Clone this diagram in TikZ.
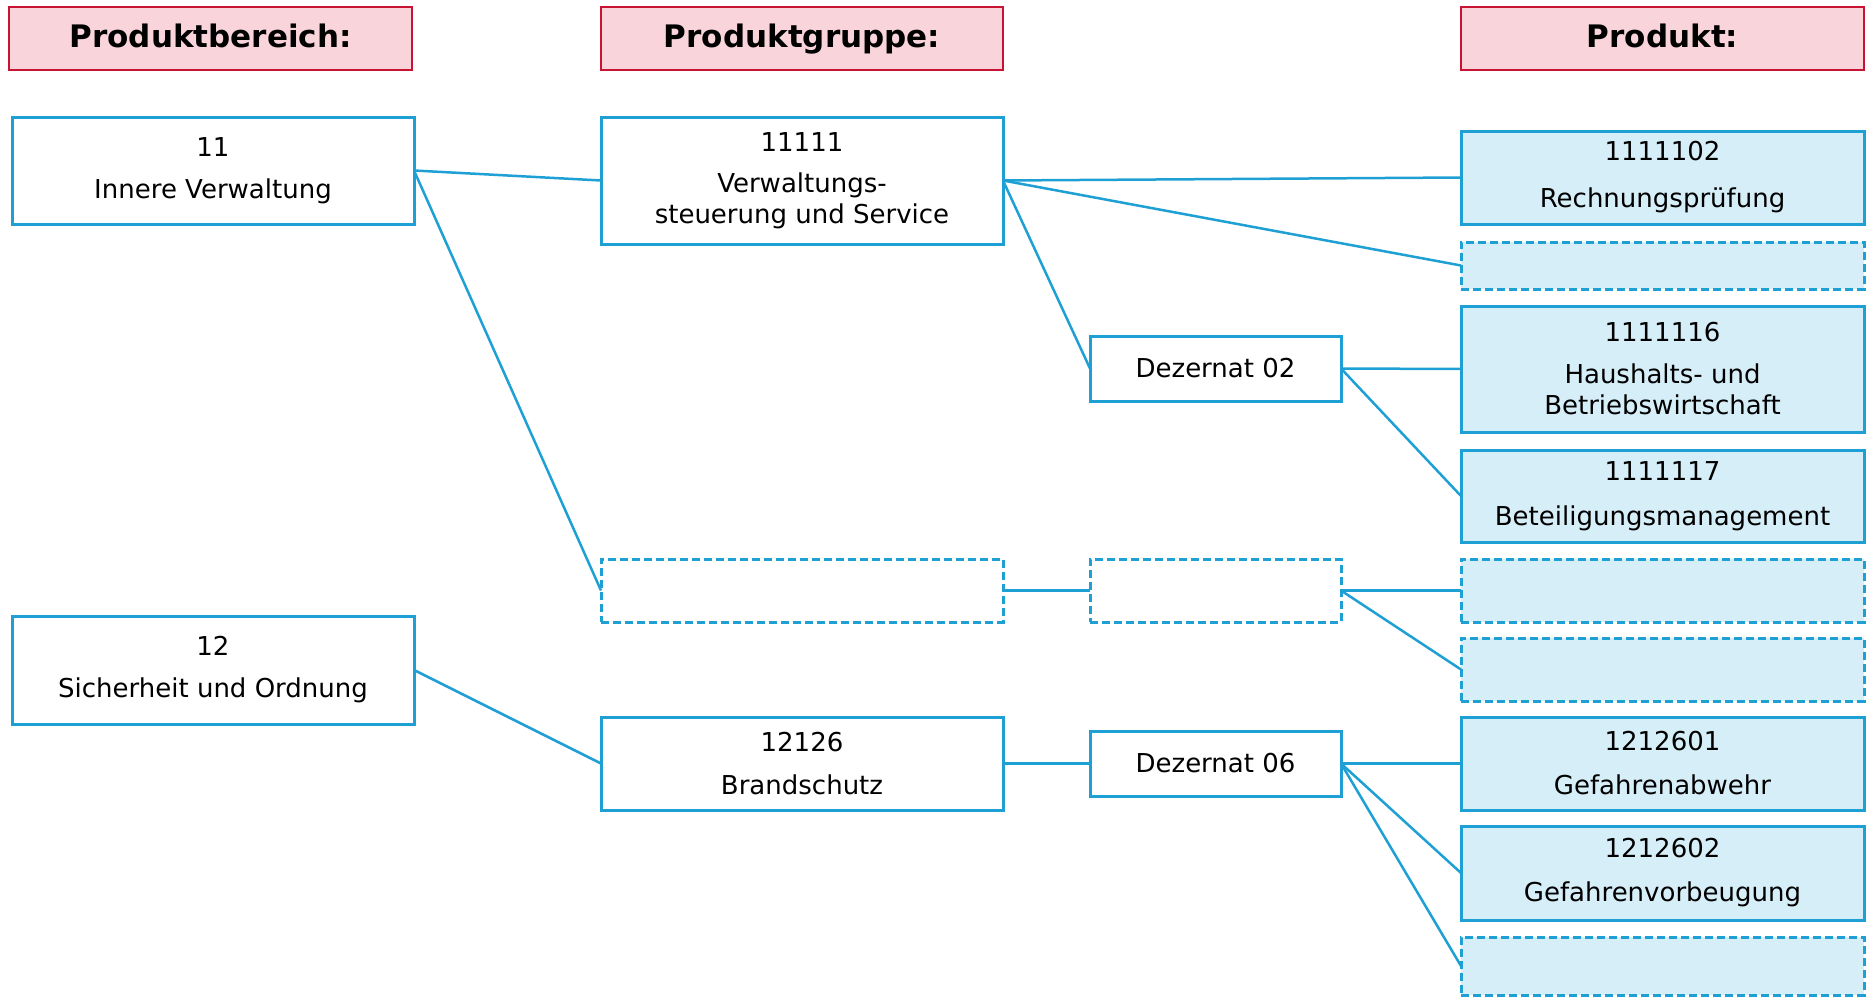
\documentclass[tikz,border=0pt]{standalone}
\usepackage{fontspec}
\setmainfont{DejaVu Sans}
\definecolor{lblue}{RGB}{30,160,212}
\definecolor{pfill}{RGB}{214,238,248}
\definecolor{hfill}{RGB}{249,212,218}
\definecolor{hdraw}{RGB}{200,20,50}
\newcommand\mybox[7]{%
  \pgfmathsetmacro\myCX{(#3+#5)/2}%
  \pgfmathsetmacro\myCY{(#4+#6)/2}%
  \pgfmathsetmacro\myWW{#5-#3}%
  \pgfmathsetmacro\myHH{#6-#4}%
  \node[#1,minimum width=\myWW pt,minimum height=\myHH pt] (#2) at (\myCX,\myCY) {#7};}
\begin{document}
\begin{tikzpicture}[x=1pt,y=-1pt,
  hdr/.style={draw=hdraw,fill=hfill,line width=2.8pt,inner sep=0pt,outer sep=0pt,
    text height=23pt,text depth=5pt,
    font=\fontsize{31}{37}\selectfont\bfseries},
  bx/.style={draw=lblue,fill=white,line width=3pt,inner sep=0pt,outer sep=0pt,
    align=center,font=\fontsize{26}{31}\selectfont},
  pbx/.style={bx,fill=pfill},
  dbx/.style={bx,dash pattern=on 8pt off 4pt},
  dpbx/.style={pbx,dash pattern=on 8pt off 4pt},
  conn/.style={draw=lblue,line width=2.5pt}]
\useasboundingbox (0,0) rectangle (1866,998);
% headers
\mybox{hdr}{h1}{9}{7}{412}{70}{Produktbereich:}
\mybox{hdr}{h2}{601}{7}{1003}{70}{Produktgruppe:}
\mybox{hdr}{h3}{1461}{7}{1864}{70}{Produkt:}
% column 1
\mybox{bx}{b11}{12}{117}{414}{224}{11\\[11pt]Innere Verwaltung}
\mybox{bx}{b12}{12}{616}{414}{724}{12\\[11pt]Sicherheit und Ordnung}
% column 2
\mybox{bx}{g11111}{601}{117}{1003}{244}{11111\\[10pt]Verwaltungs-\\steuerung und Service}
\mybox{dbx}{gd}{601}{559}{1003}{622}{}
\mybox{bx}{g12126}{601}{717}{1003}{810}{12126\\[12pt]Brandschutz}
% dezernate
\mybox{bx}{d02}{1090}{336}{1341}{401}{Dezernat 02}
\mybox{dbx}{dd}{1090}{559}{1341}{622}{}
\mybox{bx}{d06}{1090}{731}{1341}{796}{Dezernat 06}
% products
\mybox{pbx}{p02}{1461}{131}{1864}{224}{1111102\\[16pt]Rechnungsprüfung}
\mybox{dpbx}{pd1}{1461}{242}{1864}{289}{}
\mybox{pbx}{p16}{1461}{306}{1864}{432}{1111116\\[11pt]Haushalts- und\\Betriebswirtschaft}
\mybox{pbx}{p17}{1461}{450}{1864}{542}{1111117\\[14pt]Beteiligungsmanagement}
\mybox{dpbx}{pd2}{1461}{559}{1864}{622}{}
\mybox{dpbx}{pd3}{1461}{638}{1864}{701}{}
\mybox{pbx}{p601}{1461}{717}{1864}{810}{1212601\\[13pt]Gefahrenabwehr}
\mybox{pbx}{p602}{1461}{826}{1864}{920}{1212602\\[13pt]Gefahrenvorbeugung}
\mybox{dpbx}{pd4}{1461}{937}{1864}{995}{}
% connectors
\draw[conn] (b11.east) -- (g11111.west);
\draw[conn] (b11.east) -- (gd.west);
\draw[conn] (b12.east) -- (g12126.west);
\draw[conn] (g11111.east) -- (p02.west);
\draw[conn] (g11111.east) -- (pd1.west);
\draw[conn] (g11111.east) -- (d02.west);
\draw[conn] (d02.east) -- (p16.west);
\draw[conn] (d02.east) -- (p17.west);
\draw[conn] (gd.east) -- (dd.west);
\draw[conn] (dd.east) -- (pd2.west);
\draw[conn] (dd.east) -- (pd3.west);
\draw[conn] (g12126.east) -- (d06.west);
\draw[conn] (d06.east) -- (p601.west);
\draw[conn] (d06.east) -- (p602.west);
\draw[conn] (d06.east) -- (pd4.west);
\end{tikzpicture}
\end{document}
